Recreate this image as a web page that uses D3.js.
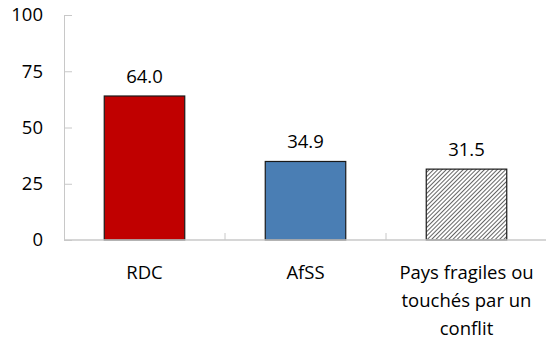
<!DOCTYPE html>
<html>
<head>
<meta charset="utf-8">
<script src="https://cdn.jsdelivr.net/npm/d3@7"></script>
<style>
  body { margin: 0; background: #fff; }
  text { font-family: 'Open Sans', 'Noto Sans', sans-serif; fill: #000; }
</style>
</head>
<body>
<div id="chart"></div>
<script>
// data
var categories = ['RDC', 'AfSS', 'Pays fragiles ou touchés par un conflit']
var labelLines = [['RDC'], ['AfSS'], ['Pays fragiles ou', 'touchés par un', 'conflit']]
var values = [64.0, 34.9, 31.5]
var yTicks = [0, 25, 50, 75, 100]

var width = 546
var height = 345
var margin = { top: 15, left: 64, bottom: 105, right: 0 }
var fontSize = '18.5px'

var svg = d3
  .select('#chart')
  .append('svg')
  .attr('width', width)
  .attr('height', height)

// hatch pattern for the third bar
var pat = svg
  .append('defs')
  .append('pattern')
  .attr('id', 'hatch')
  .attr('patternUnits', 'userSpaceOnUse')
  .attr('width', 3)
  .attr('height', 3)
  .attr('patternTransform', 'rotate(45)')
pat.append('rect').attr('width', 3).attr('height', 3).attr('fill', '#fff')
pat
  .append('line')
  .attr('x1', 0)
  .attr('y1', 0)
  .attr('x2', 0)
  .attr('y2', 3)
  .attr('stroke', '#111')
  .attr('stroke-width', 1.3)

var x = d3
  .scaleBand()
  .domain(categories)
  .range([margin.left, width - margin.right + 1])
  .paddingInner(0.5)
  .paddingOuter(0.25)

var y = d3
  .scaleLinear()
  .domain([0, 100])
  .range([height - margin.bottom, margin.top])

var fills = ['#C00000', '#4A7EB4', 'url(#hatch)']

// y axis
var yAxis = svg
  .append('g')
  .attr('transform', 'translate(' + margin.left + ',0)')
  .call(d3.axisRight(y).tickValues(yTicks).tickSize(8).tickFormat(''))
yAxis.select('.domain').attr('stroke', '#c8c8c8')
yAxis.selectAll('.tick line').attr('stroke', '#c8c8c8')

svg
  .selectAll('.ylab')
  .data(yTicks)
  .enter()
  .append('text')
  .attr('x', 43)
  .attr('y', d => y(d))
  .attr('dy', '0.35em')
  .attr('text-anchor', 'end')
  .attr('font-size', fontSize)
  .text(d => d)

// bars
svg
  .selectAll('.bar')
  .data(values)
  .enter()
  .append('rect')
  .attr('x', (d, i) => x(categories[i]))
  .attr('y', d => y(d))
  .attr('width', x.bandwidth())
  .attr('height', d => y(0) - y(d))
  .attr('fill', (d, i) => fills[i])
  .attr('stroke', '#1a1a1a')
  .attr('stroke-width', 1.2)

// x baseline and category separators
svg
  .append('line')
  .attr('x1', margin.left)
  .attr('x2', width)
  .attr('y1', y(0))
  .attr('y2', y(0))
  .attr('stroke', '#c8c8c8')
  .attr('stroke-width', 1.5)

svg
  .selectAll('.sep')
  .data(categories.slice(1))
  .enter()
  .append('line')
  .attr('x1', d => x(d) - x.bandwidth() * 0.5)
  .attr('x2', d => x(d) - x.bandwidth() * 0.5)
  .attr('y1', y(0))
  .attr('y2', y(0) - 7)
  .attr('stroke', '#c8c8c8')

// value labels
svg
  .selectAll('.vlab')
  .data(values)
  .enter()
  .append('text')
  .attr('x', (d, i) => x(categories[i]) + x.bandwidth() / 2)
  .attr('y', d => y(d) - 13)
  .attr('text-anchor', 'middle')
  .attr('font-size', fontSize)
  .text(d => d.toFixed(1))

// category labels
labelLines.forEach((lines, i) => {
  var t = svg
    .append('text')
    .attr('text-anchor', 'middle')
    .attr('font-size', fontSize)
  lines.forEach((line, j) => {
    t.append('tspan')
      .attr('x', x(categories[i]) + x.bandwidth() / 2)
      .attr('y', 279 + j * 28)
      .text(line)
  })
})
</script>
</body>
</html>
